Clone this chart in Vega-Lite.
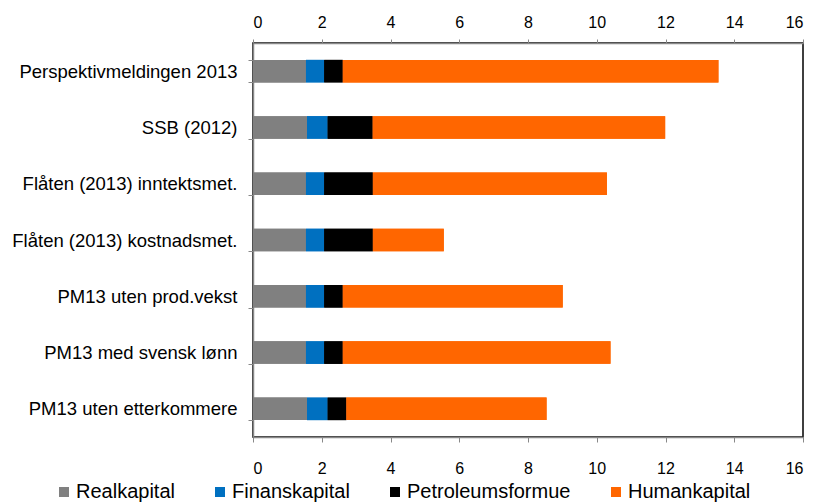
{
  "$schema": "https://vega.github.io/schema/vega-lite/v6.json",
  "width": 550,
  "height": 394,
  "autosize": "none",
  "padding": {"left": 253, "top": 43, "right": 13, "bottom": 65},
  "config": {
    "view": {"stroke": "#000", "strokeWidth": 1.5},
    "font": "Liberation Sans",
    "axis": {"labelFont": "Liberation Sans", "labelColor": "#000", "domainColor": "#888", "domainWidth": 1.5, "tickColor": "#888", "tickWidth": 1, "grid": false, "title": null},
    "legend": {"labelFont": "Liberation Sans"}
  },
  "data": {
    "values": [
      {"study": "Perspektivmeldingen 2013", "component": "Realkapital", "k": 1, "value": 1.54},
      {"study": "Perspektivmeldingen 2013", "component": "Finanskapital", "k": 2, "value": 0.53},
      {"study": "Perspektivmeldingen 2013", "component": "Petroleumsformue", "k": 3, "value": 0.54},
      {"study": "Perspektivmeldingen 2013", "component": "Humankapital", "k": 4, "value": 10.93},
      {"study": "SSB (2012)", "component": "Realkapital", "k": 1, "value": 1.57},
      {"study": "SSB (2012)", "component": "Finanskapital", "k": 2, "value": 0.60},
      {"study": "SSB (2012)", "component": "Petroleumsformue", "k": 3, "value": 1.31},
      {"study": "SSB (2012)", "component": "Humankapital", "k": 4, "value": 8.51},
      {"study": "Flåten (2013) inntektsmet.", "component": "Realkapital", "k": 1, "value": 1.54},
      {"study": "Flåten (2013) inntektsmet.", "component": "Finanskapital", "k": 2, "value": 0.53},
      {"study": "Flåten (2013) inntektsmet.", "component": "Petroleumsformue", "k": 3, "value": 1.415},
      {"study": "Flåten (2013) inntektsmet.", "component": "Humankapital", "k": 4, "value": 6.81},
      {"study": "Flåten (2013) kostnadsmet.", "component": "Realkapital", "k": 1, "value": 1.54},
      {"study": "Flåten (2013) kostnadsmet.", "component": "Finanskapital", "k": 2, "value": 0.53},
      {"study": "Flåten (2013) kostnadsmet.", "component": "Petroleumsformue", "k": 3, "value": 1.415},
      {"study": "Flåten (2013) kostnadsmet.", "component": "Humankapital", "k": 4, "value": 2.065},
      {"study": "PM13 uten prod.vekst", "component": "Realkapital", "k": 1, "value": 1.54},
      {"study": "PM13 uten prod.vekst", "component": "Finanskapital", "k": 2, "value": 0.53},
      {"study": "PM13 uten prod.vekst", "component": "Petroleumsformue", "k": 3, "value": 0.54},
      {"study": "PM13 uten prod.vekst", "component": "Humankapital", "k": 4, "value": 6.40},
      {"study": "PM13 med svensk lønn", "component": "Realkapital", "k": 1, "value": 1.54},
      {"study": "PM13 med svensk lønn", "component": "Finanskapital", "k": 2, "value": 0.53},
      {"study": "PM13 med svensk lønn", "component": "Petroleumsformue", "k": 3, "value": 0.54},
      {"study": "PM13 med svensk lønn", "component": "Humankapital", "k": 4, "value": 7.79},
      {"study": "PM13 uten etterkommere", "component": "Realkapital", "k": 1, "value": 1.57},
      {"study": "PM13 uten etterkommere", "component": "Finanskapital", "k": 2, "value": 0.60},
      {"study": "PM13 uten etterkommere", "component": "Petroleumsformue", "k": 3, "value": 0.545},
      {"study": "PM13 uten etterkommere", "component": "Humankapital", "k": 4, "value": 5.825}
    ]
  },
  "encoding": {
    "y": {
      "field": "study",
      "type": "nominal",
      "sort": ["Perspektivmeldingen 2013", "SSB (2012)", "Flåten (2013) inntektsmet.", "Flåten (2013) kostnadsmet.", "PM13 uten prod.vekst", "PM13 med svensk lønn", "PM13 uten etterkommere"],
      "scale": {"paddingInner": 0.6, "paddingOuter": 0.3},
      "axis": {"labelFontSize": 18.5, "labelLimit": 400, "tickSize": 5, "tickBand": "extent", "labelPadding": 11}
    },
    "color": {
      "field": "component",
      "type": "nominal",
      "scale": {"domain": ["Realkapital", "Finanskapital", "Petroleumsformue", "Humankapital"], "range": ["#808080", "#0070C0", "#000000", "#FF6600"]},
      "legend": {"orient": "none", "legendX": -199, "legendY": 439, "direction": "horizontal", "title": null, "symbolType": "square", "symbolSize": 100, "symbolStrokeWidth": 0, "labelFontSize": 20, "labelColor": "#000", "labelOffset": 2, "columnPadding": 35, "padding": 0, "labelLimit": 400}
    },
    "order": {"field": "k", "type": "quantitative"}
  },
  "layer": [
    {
      "mark": {"type": "bar"},
      "encoding": {
        "x": {"field": "value", "type": "quantitative", "stack": "zero", "scale": {"domain": [0, 16], "nice": false}, "axis": {"orient": "bottom", "values": [0, 2, 4, 6, 8, 10, 12, 14, 16], "labelFontSize": 16, "tickSize": 5, "labelPadding": 18}}
      }
    },
    {
      "mark": {"type": "bar"},
      "encoding": {
        "x": {"field": "value", "type": "quantitative", "stack": "zero", "scale": {"domain": [0, 16], "nice": false}, "axis": {"orient": "top", "values": [0, 2, 4, 6, 8, 10, 12, 14, 16], "labelFontSize": 16, "tickSize": 4, "labelPadding": 9}}
      }
    }
  ],
  "resolve": {"axis": {"x": "independent"}}
}
